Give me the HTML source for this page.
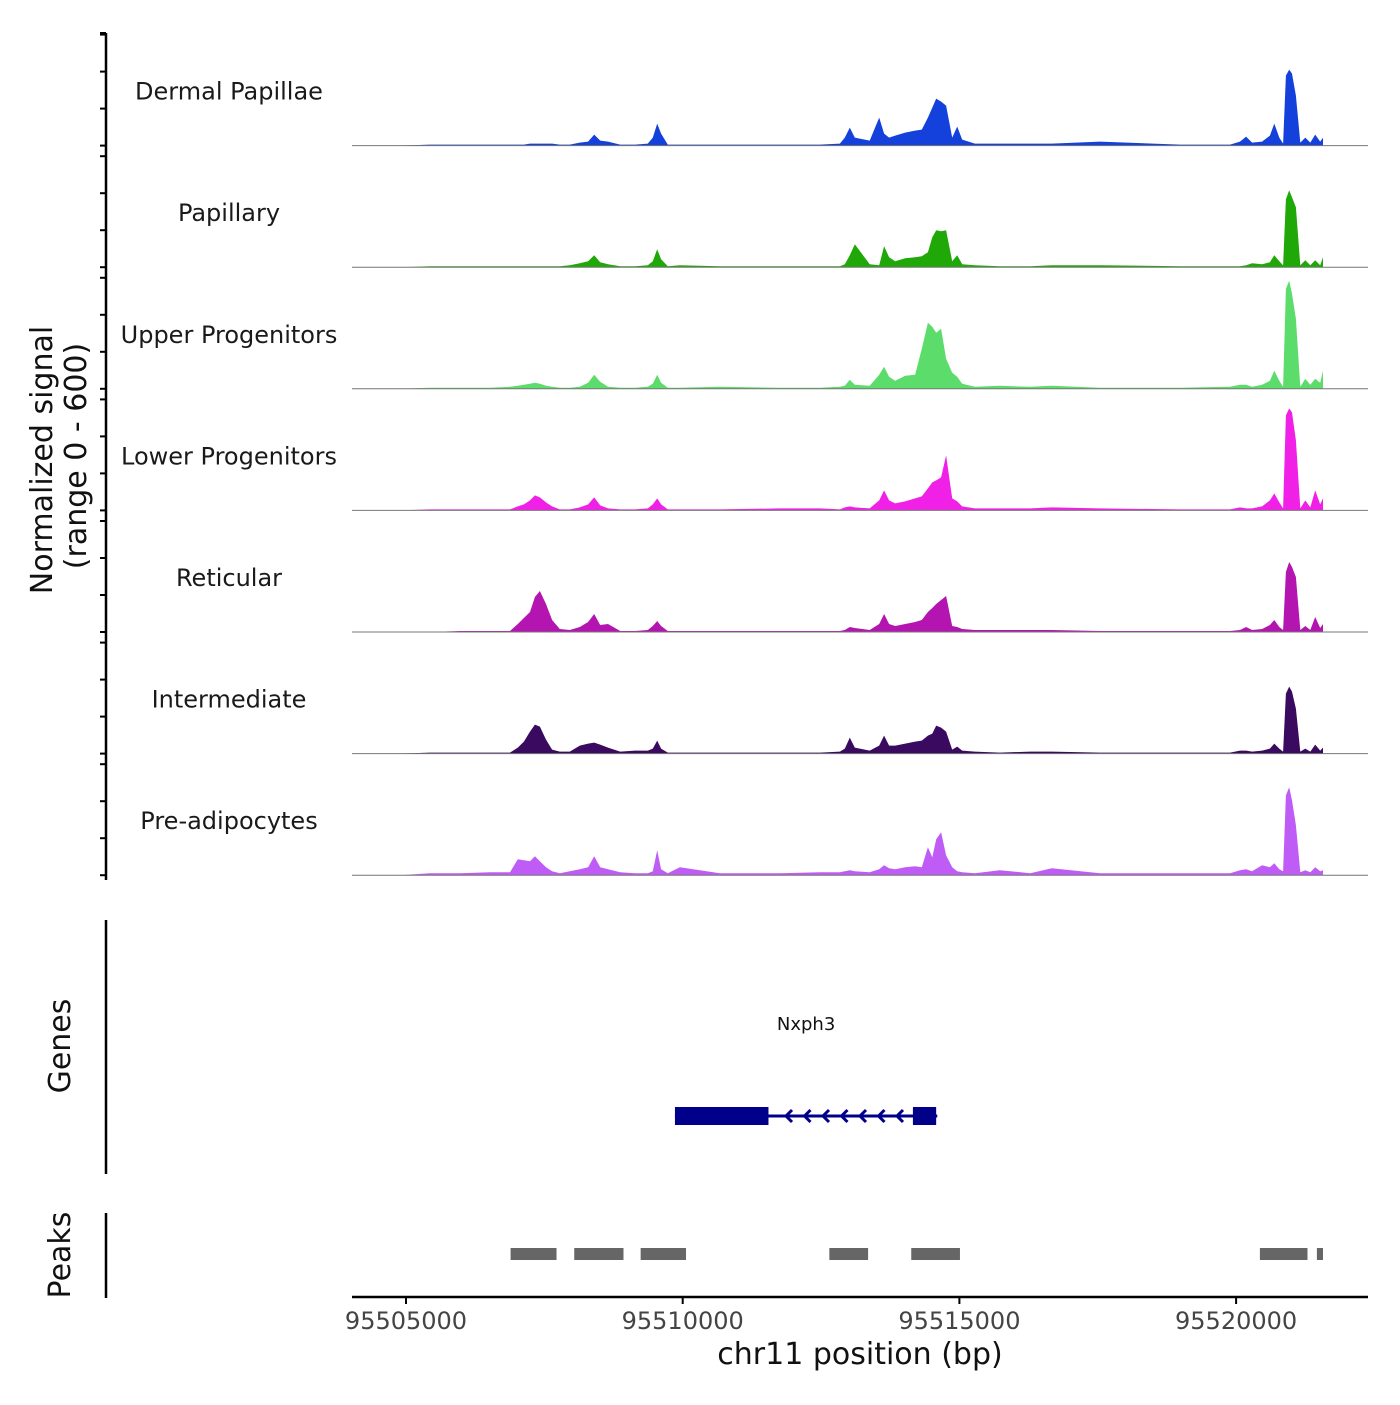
<!DOCTYPE html>
<html><head><meta charset="utf-8"><style>
body{margin:0;background:#fff;}
svg text{font-family:"DejaVu Sans","Liberation Sans",sans-serif;}
</style></head><body>
<svg id="chart" width="1400" height="1400" xmlns="http://www.w3.org/2000/svg">
<rect width="1400" height="1400" fill="#fff"/>
<g id="tracks"></g>
<g id="yaxis"></g>
<text transform="translate(52,460) rotate(-90)" text-anchor="middle" font-size="30" fill="#111">Normalized signal</text>
<text transform="translate(86,456) rotate(-90)" text-anchor="middle" font-size="30" fill="#111">(range 0 - 600)</text>
<line x1="106" y1="920" x2="106" y2="1174" stroke="#000" stroke-width="2.5"/>
<text transform="translate(70,1046) rotate(-90)" text-anchor="middle" font-size="30" fill="#111">Genes</text>
<line x1="106" y1="1213" x2="106" y2="1298" stroke="#000" stroke-width="2.5"/>
<text transform="translate(70,1255) rotate(-90)" text-anchor="middle" font-size="30" fill="#111">Peaks</text>
<g id="genes"></g>
<g id="peaks"></g>
<g id="xaxis"></g>
<text x="860" y="1364" text-anchor="middle" font-size="30" fill="#111">chr11 position (bp)</text>
</svg>
<script>
const positions = [95504890,95505430,95505980,95506520,95506880,95507020,95507130,95507240,95507330,95507420,95507530,95507640,95507780,95507960,95508140,95508290,95508400,95508510,95508650,95508870,95509140,95509370,95509460,95509540,95509610,95509730,95509950,95510670,95511760,95512480,95512840,95512930,95513020,95513110,95513380,95513550,95513640,95513730,95513840,95514020,95514200,95514320,95514430,95514510,95514580,95514670,95514760,95514870,95514960,95515050,95515280,95515730,95516280,95516670,95517540,95518990,95519890,95520070,95520180,95520290,95520470,95520610,95520690,95520780,95520850,95520900,95520960,95521010,95521080,95521160,95521250,95521340,95521430,95521520,95521570];
const trackNames = ["Dermal Papillae","Papillary","Upper Progenitors","Lower Progenitors","Reticular","Intermediate","Pre-adipocytes"];
const trackColors = ["#1440dc","#20a808","#5cdc6a","#f020e6","#b414b0","#3a0a60","#c05cf6"];
// signal values (units, range 0-600), one array per track
const dermalPapillae = [0,5,5,5,5, 5,5,10,10,10,10,10,5, 5,15,20,55,25,20,5, 5,10,40,110,60,5,5, 5,5,5, 10,40,90,40,25,140,60,40,50, 65,75,80,140,190,235,220,200,40,95,30, 10,10,10,10,20,5, 5,20,45,15,20,50,110,40,10,350,380,360,250,15,40,15,55,20,40];
const papillary = [0,5,5,5,5, 5,5,5,5,5,5,5,5, 10,20,30,60,25,15,5, 5,10,30,90,40,5,10, 5,5,5, 5,15,60,115,15,10,105,50,30, 45,50,55,75,150,185,180,185,30,60,15, 10,5,5,10,10,5, 5,5,10,20,15,25,60,30,10,340,385,350,300,10,35,10,35,10,50];
const upperProgenitors = [0,5,5,5,10, 15,20,25,30,25,15,10,5, 5,10,30,70,35,10,5, 5,10,25,70,30,5,5, 10,5,5, 10,15,45,20,15,70,110,60,40, 65,70,200,330,310,280,300,150,80,60,25, 10,15,10,15,5,5, 10,20,20,10,20,40,90,40,10,500,540,475,350,10,50,20,50,30,90];
const lowerProgenitors = [0,5,5,5,5, 20,30,50,75,65,40,20,5, 5,15,30,65,25,10,5, 5,10,30,60,30,5,5, 5,10,10, 5,15,20,15,10,50,100,50,35, 45,60,70,110,140,150,165,275,60,45,20, 10,10,10,15,10,5, 5,15,10,10,20,50,85,40,10,475,510,490,350,10,50,15,100,30,60];
const reticular = [0,0,5,5,5, 40,70,100,175,205,140,60,15, 10,25,50,90,35,40,5, 5,10,30,55,30,5,5, 5,5,5, 5,10,25,20,10,40,90,40,30, 40,50,60,100,120,140,160,180,30,25,15, 10,10,10,10,5,5, 5,10,25,10,15,35,60,25,10,300,350,325,275,10,30,10,75,20,40];
const intermediate = [0,5,5,5,5, 30,60,110,145,135,70,20,10, 10,40,50,55,45,30,10, 15,15,25,65,25,5,5, 5,5,5, 10,25,80,30,15,40,90,40,40, 50,60,65,90,100,140,130,110,20,35,15, 10,5,10,10,5,5, 5,15,15,10,15,25,50,25,10,300,335,310,225,10,25,10,45,15,30];
const preAdipocytes = [0,10,10,15,15, 80,75,70,95,70,40,20,10, 20,30,40,95,40,30,15, 10,10,20,125,30,10,40, 10,10,15, 15,20,25,20,15,30,50,35,30, 40,45,40,140,90,180,215,100,40,20,15, 10,25,10,35,10,10, 10,25,30,20,50,40,60,30,20,400,440,375,250,15,25,15,40,20,25];
const signals = [dermalPapillae,papillary,upperProgenitors,lowerProgenitors,reticular,intermediate,preAdipocytes];
const xTicks = [95505000,95510000,95515000,95520000];
const geneName = ["Nxph3"];
const geneStart = [95509860];
const geneEnd = [95514600];
const exonStarts = [95509860,95514160];
const exonEnds = [95511550,95514580];
const peakStarts = [95506890,95508040,95509240,95512650,95514130,95520430,95521460];
const peakEnds = [95507720,95508930,95510060,95513350,95515010,95521290,95521570];

const NS="http://www.w3.org/2000/svg";
const X0=352,X1=1368;
function xScale(bp){return 406+(bp-95505000)*0.05534;}
const trackTop=25, trackH=121.6, pxPerUnit=1/5;
function baseY(i){return trackTop+trackH*(i+1)-1;}
function yScale(v,i){return baseY(i)-v*pxPerUnit;}
function mk(tag,attrs,parent){const e=document.createElementNS(NS,tag);for(const k in attrs)e.setAttribute(k,attrs[k]);parent.appendChild(e);return e;}

const tracks=document.getElementById('tracks');
signals.forEach((vals,i)=>{
  const b=baseY(i);
  let d='M'+xScale(positions[0]).toFixed(1)+','+b;
  vals.forEach((v,j)=>{d+=' L'+xScale(positions[j]).toFixed(1)+','+yScale(v,i).toFixed(1);});
  d+=' L'+xScale(positions[positions.length-1]).toFixed(1)+','+b+' Z';
  const p=mk('path',{d:d,fill:trackColors[i]},tracks);
  
  
  const l=mk('line',{x1:X0,x2:X1,y1:b,y2:b,stroke:'#777','stroke-width':1},tracks);
  
  
  const t=mk('text',{x:229,y:b-46,'text-anchor':'middle','font-size':24,fill:'#1a1a1a'},tracks);
  t.textContent=trackNames[i];
  
  
});

const yax=document.getElementById('yaxis');
mk('line',{x1:106,x2:106,y1:33,y2:880,stroke:'#000','stroke-width':2.5},yax);
const tickVals=[0,185,370,555];
signals.forEach((vals,i)=>{
  tickVals.forEach(tv=>{
    const y=yScale(tv,i);
    const tk=mk('line',{x1:100,x2:106,y1:y,y2:y,stroke:'#000','stroke-width':2},yax);
    
    
  });
});
mk('line',{x1:100,x2:106,y1:33,y2:33,stroke:'#000','stroke-width':2},yax);

const g=document.getElementById('genes');
const gy=1116;
geneName.forEach((nm,k)=>{
  const x1=xScale(geneStart[k]),x2=xScale(geneEnd[k]);
  const ln=mk('line',{x1:x1,x2:x2,y1:gy,y2:gy,stroke:'#00008b','stroke-width':3},g);
  
  
  for(let x=786;x<x2-25;x+=18.5){
    mk('path',{d:`M${x+6},${gy-6} L${x},${gy} L${x+6},${gy+6}`,stroke:'#00008b','stroke-width':3,fill:'none'},g);
  }
  const t=mk('text',{x:(x1+x2)/2,y:1030,'text-anchor':'middle','font-size':18,fill:'#111'},g);
  t.textContent=nm;
  
  
});
exonStarts.forEach((s,k)=>{
  const r=mk('rect',{x:xScale(s),y:gy-9,width:xScale(exonEnds[k])-xScale(s),height:18,fill:'#00008b'},g);
  
  
});

const pk=document.getElementById('peaks');
peakStarts.forEach((s,k)=>{
  const r=mk('rect',{x:xScale(s),y:1248,width:xScale(peakEnds[k])-xScale(s),height:12,fill:'#666'},pk);
  
  
});

const xa=document.getElementById('xaxis');
mk('line',{x1:X0,x2:X1,y1:1297,y2:1297,stroke:'#000','stroke-width':2.5},xa);
xTicks.forEach(v=>{
  const x=xScale(v);
  const tk=mk('line',{x1:x,x2:x,y1:1297,y2:1304,stroke:'#000','stroke-width':2},xa);
  
  
  const t=mk('text',{x:x,y:1329,'text-anchor':'middle','font-size':24,fill:'#444'},xa);
  t.textContent=String(v);
  
  
});
</script>
</body></html>
